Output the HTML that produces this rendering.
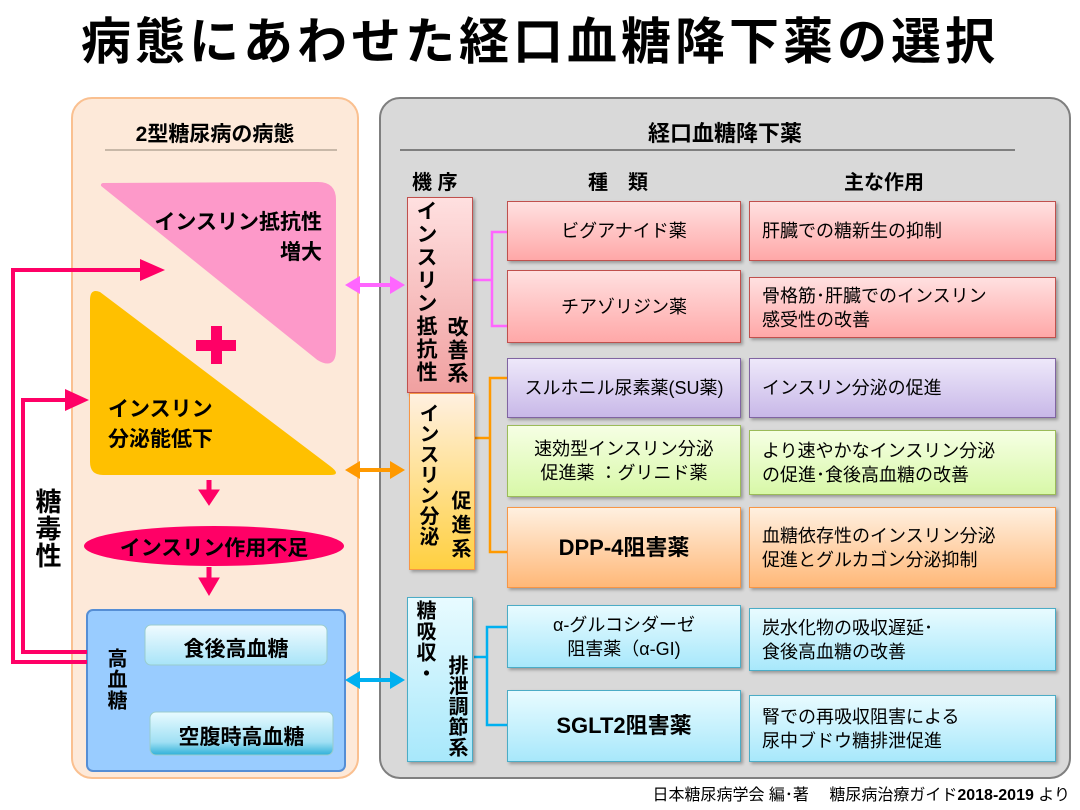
<!DOCTYPE html>
<html><head><meta charset="utf-8"><style>
body{margin:0;width:1080px;height:810px;background:#fff;position:relative;overflow:hidden;font-family:"Liberation Sans","Noto Sans CJK JP",sans-serif;color:#000}
.a{position:absolute}
.bx{position:absolute;box-sizing:border-box;display:flex;align-items:center;font-size:18px;line-height:24px;box-shadow:2px 2px 3px rgba(0,0,0,.3)}
.d{justify-content:center;text-align:center}
.e{padding-left:12px}
.pk{background:linear-gradient(#ffe0e0,#ffa8a8);border:1.5px solid #c0504d}
.pu{background:linear-gradient(#eee8fa,#c8b8e8);border:1.5px solid #8064a2}
.gr{background:linear-gradient(#f6ffe4,#d8f8a8);border:1.5px solid #9bbb59}
.or{background:linear-gradient(#fff0e0,#ffb878);border:1.5px solid #f79646}
.cy{background:linear-gradient(#e8fbff,#a8e8fb);border:1.5px solid #4bacc6}
.v{position:absolute;writing-mode:vertical-rl;font-weight:bold;font-size:21px;line-height:26px;letter-spacing:1px;white-space:nowrap}
</style></head><body>
<div class="a" style="left:0;width:1080px;top:10px;text-align:center;font-size:50px;font-weight:bold;line-height:64px;letter-spacing:4px">病態にあわせた経口血糖降下薬の選択</div>
<svg class="a" style="left:0;top:0" width="1080" height="810">
<rect x="72" y="98" width="286" height="680" rx="20" fill="#fde9d9" stroke="#fac090" stroke-width="2"/>
<line x1="105" y1="150" x2="337" y2="150" stroke="#c8b8a8" stroke-width="2"/>
<rect x="380" y="98" width="690" height="680" rx="20" fill="#d9d9d9" stroke="#7f7f7f" stroke-width="2"/>
<line x1="400" y1="150" x2="1015" y2="150" stroke="#7f7f7f" stroke-width="2"/>
<path d="M103 185 L318 184 Q334 184 334 200 L334 350 Q334 368 318 358 Z" fill="#fd99c9" stroke="#fd99c9" stroke-width="4" stroke-linejoin="round"/>
<path d="M100 292 Q90 288 90 300 L90 462 Q90 475 103 475 L330 475 Q342 475 330 466 Z" fill="#ffc000"/>
<rect x="196" y="340" width="40" height="11" fill="#ff0066"/><rect x="211" y="326" width="11" height="38" fill="#ff0066"/>
<g fill="#ff0066" stroke="#ff0066">
<line x1="209" y1="480" x2="209" y2="492" stroke-width="5"/><polygon points="199,490 219,490 209,505"/>
<line x1="209" y1="567" x2="209" y2="580" stroke-width="5"/><polygon points="199,578 219,578 209,595"/>
<line x1="209" y1="663" x2="209" y2="688" stroke-width="5"/><polygon points="199,686 219,686 209,702"/>
</g>
<ellipse cx="214" cy="546" rx="130" ry="20" fill="#ff0066"/>
<rect x="87" y="610" width="258" height="161" rx="6" fill="#99ccff" stroke="#558ed5" stroke-width="2"/>
<defs><linearGradient id="g1" x1="0" y1="0" x2="0" y2="1"><stop offset="0" stop-color="#f0fbff"/><stop offset="1" stop-color="#a8e4f8"/></linearGradient>
<linearGradient id="g2" x1="0" y1="0" x2="0" y2="1"><stop offset="0" stop-color="#e8fbff"/><stop offset=".7" stop-color="#a0e0f4"/><stop offset="1" stop-color="#30b0d8"/></linearGradient></defs>
<rect x="145" y="625" width="182" height="40" rx="6" fill="url(#g1)" stroke="#9cc" />
<rect x="150" y="712" width="183" height="43" rx="6" fill="url(#g2)" stroke="#9cc"/>
<g fill="none" stroke="#ff0066" stroke-width="4">
<polyline points="87,662 13,662 13,270 150,270"/>
<polyline points="87,652 23,652 23,400 72,400"/>
</g>
<g fill="#ff0066"><polygon points="140,259 165,270 140,281"/><polygon points="65,389 89,400 65,411"/></g>
<g stroke-width="4">
<line x1="355" y1="285" x2="395" y2="285" stroke="#ff66ff"/><polygon points="345,285 360,276 360,294" fill="#ff66ff"/><polygon points="405,285 390,276 390,294" fill="#ff66ff"/>
<line x1="355" y1="470" x2="395" y2="470" stroke="#ff9900"/><polygon points="345,470 360,461 360,479" fill="#ff9900"/><polygon points="405,470 390,461 390,479" fill="#ff9900"/>
<line x1="355" y1="680" x2="395" y2="680" stroke="#00b0f0"/><polygon points="345,680 360,671 360,689" fill="#00b0f0"/><polygon points="405,680 390,671 390,689" fill="#00b0f0"/>
</g>
<g fill="none" stroke-width="2.5">
<polyline stroke="#ff66ff" points="473,280 492,280"/><polyline stroke="#ff66ff" points="507,232 492,232 492,326 507,326"/>
<polyline stroke="#ff9900" points="475,438 490,438"/><polyline stroke="#ff9900" points="507,378 490,378 490,552 507,552"/>
<polyline stroke="#00b0f0" points="474,657 487,657"/><polyline stroke="#00b0f0" points="507,627 487,627 487,725 507,725"/>
</g>
</svg>
<div class="a" style="left:72px;width:286px;top:118px;text-align:center;font-size:21px;font-weight:bold">2型糖尿病の病態</div>
<div class="a" style="left:380px;width:690px;top:116px;text-align:center;font-size:22px;font-weight:bold">経口血糖降下薬</div>
<div class="a" style="left:412px;top:166px;font-size:20px;font-weight:bold">機 序</div>
<div class="a" style="left:588px;top:166px;font-size:20px;font-weight:bold">種　類</div>
<div class="a" style="left:844px;top:166px;font-size:20px;font-weight:bold">主な作用</div>
<div class="a" style="left:130px;width:192px;top:208px;text-align:right;font-size:21px;font-weight:bold;line-height:30px">インスリン抵抗性<br>増大</div>
<div class="a" style="left:108px;top:395px;font-size:21px;font-weight:bold;line-height:30px">インスリン<br>分泌能低下</div>
<div class="a" style="left:84px;width:260px;top:532px;text-align:center;font-size:21px;font-weight:bold">インスリン作用不足</div>
<div class="v" style="left:32px;top:488px;font-size:26px;line-height:30px">糖毒性</div>
<div class="v" style="left:102px;top:648px;font-size:20px">高血糖</div>
<div class="a" style="left:145px;width:182px;top:633px;text-align:center;font-size:21px;font-weight:bold">食後高血糖</div>
<div class="a" style="left:150px;width:183px;top:721px;text-align:center;font-size:21px;font-weight:bold">空腹時高血糖</div>
<div class="a" style="left:407px;top:197px;width:66px;height:196px;box-sizing:border-box;background:linear-gradient(#ffe0e0,#f0a0a0);border:1.5px solid #c0504d;box-shadow:2px 2px 3px rgba(0,0,0,.3)"></div>
<div class="v" style="left:412px;top:200px;letter-spacing:2px">インスリン抵抗性</div><div class="v" style="left:443px;top:316px;letter-spacing:2px">改善系</div>
<div class="a" style="left:409px;top:393px;width:66px;height:177px;box-sizing:border-box;background:linear-gradient(#fff0e0,#ffd040);border:1.5px solid #f79646;box-shadow:2px 2px 3px rgba(0,0,0,.3)"></div>
<div class="v" style="left:414px;top:403px;font-size:20px;letter-spacing:0.5px">インスリン分泌</div><div class="v" style="left:446px;top:490px;font-size:20px;letter-spacing:4px">促進系</div>
<div class="a" style="left:407px;top:597px;width:66px;height:165px;box-sizing:border-box;background:linear-gradient(#e8fbff,#a8e8fb);border:1.5px solid #4bacc6;box-shadow:2px 2px 3px rgba(0,0,0,.3)"></div>
<div class="v" style="left:411px;top:600px;font-size:20px">糖吸収・</div><div class="v" style="left:443px;top:655px;font-size:20px;letter-spacing:0.5px">排泄調節系</div>
<div class="bx d pk" style="left:507px;top:201px;width:234px;height:60px">ビグアナイド薬</div>
<div class="bx e pk" style="left:749px;top:201px;width:307px;height:60px">肝臓での糖新生の抑制</div>
<div class="bx d pk" style="left:507px;top:270px;width:234px;height:73px">チアゾリジン薬</div>
<div class="bx e pk" style="left:749px;top:277px;width:307px;height:61px">骨格筋･肝臓でのインスリン<br>感受性の改善</div>
<div class="bx d pu" style="left:507px;top:358px;width:234px;height:60px">スルホニル尿素薬(SU薬)</div>
<div class="bx e pu" style="left:749px;top:358px;width:307px;height:60px">インスリン分泌の促進</div>
<div class="bx d gr" style="left:507px;top:425px;width:234px;height:72px">速効型インスリン分泌<br>促進薬 ：グリニド薬</div>
<div class="bx e gr" style="left:749px;top:430px;width:307px;height:65px">より速やかなインスリン分泌<br>の促進･食後高血糖の改善</div>
<div class="bx d or" style="left:507px;top:507px;width:234px;height:81px;font-size:22px;font-weight:bold">DPP-4阻害薬</div>
<div class="bx e or" style="left:749px;top:507px;width:307px;height:81px">血糖依存性のインスリン分泌<br>促進とグルカゴン分泌抑制</div>
<div class="bx d cy" style="left:507px;top:605px;width:234px;height:63px">α-グルコシダーゼ<br>阻害薬（α-GI)</div>
<div class="bx e cy" style="left:749px;top:608px;width:307px;height:63px">炭水化物の吸収遅延･<br>食後高血糖の改善</div>
<div class="bx d cy" style="left:507px;top:690px;width:234px;height:72px;font-size:22px;font-weight:bold">SGLT2阻害薬</div>
<div class="bx e cy" style="left:749px;top:695px;width:307px;height:67px">腎での再吸収阻害による<br>尿中ブドウ糖排泄促進</div>
<div class="a" style="right:10px;top:786px;font-size:16px;line-height:20px">日本糖尿病学会 編･著　 糖尿病治療ガイド<b>2018-2019</b> より</div>
</body></html>
